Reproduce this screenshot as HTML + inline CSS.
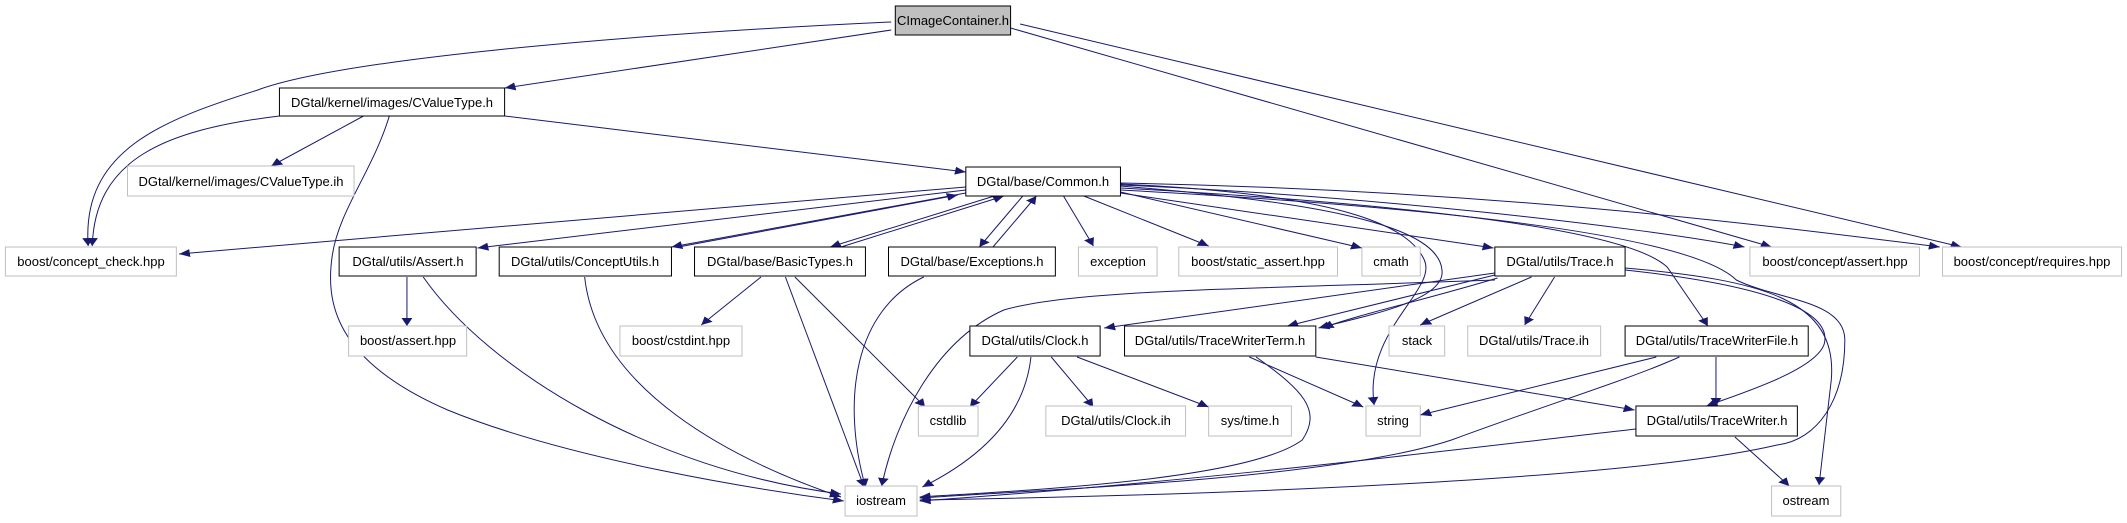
<!DOCTYPE html>
<html><head><meta charset="utf-8"><style>
html,body{margin:0;padding:0;background:#fff;}
svg{display:block;}
text{font-family:"Liberation Sans",Helvetica,Arial,sans-serif;font-size:13px;fill:#000;text-anchor:middle;}
</style></head><body>
<svg width="2127" height="523" viewBox="0 0 2127 523" xmlns="http://www.w3.org/2000/svg">
<defs>
<marker id="a" viewBox="0 0 10 10" refX="10" refY="5" markerUnits="userSpaceOnUse" markerWidth="8" markerHeight="9" orient="auto">
<path d="M0,0 L10,5 L0,10 z" fill="#191970"/>
</marker>
</defs>
<g transform="scale(1.3565,1)">
<g fill="none" stroke="#191970" stroke-width="1" vector-effect="non-scaling-stroke" marker-end="url(#a)">
<path vector-effect="non-scaling-stroke" d="M657,22 C450,35 250,60 190,90 C120,120 60,150 65,246"/>
<path vector-effect="non-scaling-stroke" d="M657,30 L372,88"/>
<path vector-effect="non-scaling-stroke" d="M745,28 L1306,247"/>
<path vector-effect="non-scaling-stroke" d="M752,24 L1446,247"/>
<path vector-effect="non-scaling-stroke" d="M206,116 C120,130 70,160 68,246"/>
<path vector-effect="non-scaling-stroke" d="M268,116 L200,166"/>
<path vector-effect="non-scaling-stroke" d="M287,116 C275,170 250,210 245,255 C240,300 245,360 330,410 C420,460 560,490 622,501"/>
<path vector-effect="non-scaling-stroke" d="M372,116 L712,172"/>
<path vector-effect="non-scaling-stroke" d="M712,187 L132,254"/>
<path vector-effect="non-scaling-stroke" d="M712,190 L352,248"/>
<path vector-effect="non-scaling-stroke" d="M712,193 L495,247"/>
<path vector-effect="non-scaling-stroke" d="M500,247 L706,195"/>
<path vector-effect="non-scaling-stroke" d="M733,196 L612,247"/>
<path vector-effect="non-scaling-stroke" d="M620,247 L740,196"/>
<path vector-effect="non-scaling-stroke" d="M754,196 L722,247"/>
<path vector-effect="non-scaling-stroke" d="M732,247 L764,196"/>
<path vector-effect="non-scaling-stroke" d="M784,196 L806,246"/>
<path vector-effect="non-scaling-stroke" d="M799,196 L891,246"/>
<path vector-effect="non-scaling-stroke" d="M826,192 L1004,248"/>
<path vector-effect="non-scaling-stroke" d="M826,193 L1101,248"/>
<path vector-effect="non-scaling-stroke" d="M826,185 C1000,195 1200,225 1286,247"/>
<path vector-effect="non-scaling-stroke" d="M826,183 C1100,190 1300,225 1430,247"/>
<path vector-effect="non-scaling-stroke" d="M826,186 C950,200 1060,220 1063,270 C1066,300 1010,315 972,328"/>
<path vector-effect="non-scaling-stroke" d="M826,184 C1000,195 1040,230 1050,260 C1060,290 1005,330 1013,405"/>
<path vector-effect="non-scaling-stroke" d="M826,188 C1050,205 1200,230 1229,267 L1259,326"/>
<path vector-effect="non-scaling-stroke" d="M826,190 C1100,210 1250,240 1280,280 C1310,300 1360,300 1360,340 C1360,400 1340,440 1310,445 C1200,480 900,495 678,500"/>
<path vector-effect="non-scaling-stroke" d="M1102,273 L814,328"/>
<path vector-effect="non-scaling-stroke" d="M1102,275 L949,326"/>
<path vector-effect="non-scaling-stroke" d="M1104,278 C1050,300 1000,315 975,328"/>
<path vector-effect="non-scaling-stroke" d="M1102,280 C900,290 790,290 740,310 C690,340 660,420 650,486"/>
<path vector-effect="non-scaling-stroke" d="M1129,277 L1047,325"/>
<path vector-effect="non-scaling-stroke" d="M1146,277 L1124,325"/>
<path vector-effect="non-scaling-stroke" d="M1198,270 C1300,285 1350,310 1345,343 C1340,370 1280,395 1258,406"/>
<path vector-effect="non-scaling-stroke" d="M1198,268 C1300,280 1355,300 1350,380 L1341,485"/>
<path vector-effect="non-scaling-stroke" d="M921,357 L1005,407"/>
<path vector-effect="non-scaling-stroke" d="M926,357 C960,390 975,410 960,440 C920,480 760,490 678,497"/>
<path vector-effect="non-scaling-stroke" d="M970,357 L1205,410"/>
<path vector-effect="non-scaling-stroke" d="M1221,357 L1047,415"/>
<path vector-effect="non-scaling-stroke" d="M1238,357 C1200,380 1150,400 1070,440 C980,480 760,490 678,498"/>
<path vector-effect="non-scaling-stroke" d="M1265,357 L1265,406"/>
<path vector-effect="non-scaling-stroke" d="M1206,429 C1100,445 900,480 678,501"/>
<path vector-effect="non-scaling-stroke" d="M1279,437 L1319,486"/>
<path vector-effect="non-scaling-stroke" d="M750,357 L715,407"/>
<path vector-effect="non-scaling-stroke" d="M760,357 C755,420 720,460 680,487"/>
<path vector-effect="non-scaling-stroke" d="M775,357 L806,407"/>
<path vector-effect="non-scaling-stroke" d="M794,357 L891,407"/>
<path vector-effect="non-scaling-stroke" d="M300,277 L300,326"/>
<path vector-effect="non-scaling-stroke" d="M312,277 C360,370 480,470 620,494"/>
<path vector-effect="non-scaling-stroke" d="M431,277 C440,390 540,460 620,497"/>
<path vector-effect="non-scaling-stroke" d="M561,277 L517,325"/>
<path vector-effect="non-scaling-stroke" d="M579,277 L637,487"/>
<path vector-effect="non-scaling-stroke" d="M586,277 L682,407"/>
<path vector-effect="non-scaling-stroke" d="M681,277 C630,310 620,400 638,487"/>
</g>
<g stroke-width="1" vector-effect="non-scaling-stroke">
<rect vector-effect="non-scaling-stroke" x="660" y="6" width="85" height="29" fill="#bfbfbf" stroke="#000"/>
<g fill="#fff" stroke="#000">
<rect vector-effect="non-scaling-stroke" x="206" y="88" width="166" height="28"/>
<rect vector-effect="non-scaling-stroke" x="712" y="167" width="114" height="29"/>
<rect vector-effect="non-scaling-stroke" x="250" y="247" width="101" height="29"/>
<rect vector-effect="non-scaling-stroke" x="368" y="247" width="127" height="29"/>
<rect vector-effect="non-scaling-stroke" x="512" y="247" width="126" height="29"/>
<rect vector-effect="non-scaling-stroke" x="655" y="247" width="123" height="29"/>
<rect vector-effect="non-scaling-stroke" x="1102" y="247" width="96" height="29"/>
<rect vector-effect="non-scaling-stroke" x="715" y="326" width="96" height="30"/>
<rect vector-effect="non-scaling-stroke" x="829" y="326" width="141" height="30"/>
<rect vector-effect="non-scaling-stroke" x="1198" y="326" width="135" height="30"/>
<rect vector-effect="non-scaling-stroke" x="1206" y="406" width="119" height="30"/>
</g>
<g fill="#fff" stroke="#bfbfbf">
<rect vector-effect="non-scaling-stroke" x="94" y="166" width="167" height="30"/>
<rect vector-effect="non-scaling-stroke" x="4" y="247" width="126" height="29"/>
<rect vector-effect="non-scaling-stroke" x="795" y="247" width="58" height="29"/>
<rect vector-effect="non-scaling-stroke" x="869" y="247" width="117" height="29"/>
<rect vector-effect="non-scaling-stroke" x="1004" y="247" width="43" height="29"/>
<rect vector-effect="non-scaling-stroke" x="1290" y="247" width="125" height="29"/>
<rect vector-effect="non-scaling-stroke" x="1432" y="247" width="132" height="29"/>
<rect vector-effect="non-scaling-stroke" x="257" y="326" width="87" height="30"/>
<rect vector-effect="non-scaling-stroke" x="457" y="326" width="90" height="30"/>
<rect vector-effect="non-scaling-stroke" x="1024" y="326" width="41" height="30"/>
<rect vector-effect="non-scaling-stroke" x="1082" y="326" width="98" height="30"/>
<rect vector-effect="non-scaling-stroke" x="677" y="406" width="44" height="30"/>
<rect vector-effect="non-scaling-stroke" x="771" y="406" width="103" height="30"/>
<rect vector-effect="non-scaling-stroke" x="891" y="406" width="61" height="30"/>
<rect vector-effect="non-scaling-stroke" x="1007" y="406" width="40" height="30"/>
<rect vector-effect="non-scaling-stroke" x="623" y="486" width="53" height="30"/>
<rect vector-effect="non-scaling-stroke" x="1306" y="486" width="51" height="30"/>
</g>
</g>
</g>
<g>
<text x="953" y="25">CImageContainer.h</text>
<text x="392" y="107">DGtal/kernel/images/CValueType.h</text>
<text x="241" y="186">DGtal/kernel/images/CValueType.ih</text>
<text x="1043" y="186">DGtal/base/Common.h</text>
<text x="91" y="266">boost/concept_check.hpp</text>
<text x="408" y="266">DGtal/utils/Assert.h</text>
<text x="585" y="266">DGtal/utils/ConceptUtils.h</text>
<text x="780" y="266">DGtal/base/BasicTypes.h</text>
<text x="972" y="266">DGtal/base/Exceptions.h</text>
<text x="1118" y="266">exception</text>
<text x="1258" y="266">boost/static_assert.hpp</text>
<text x="1391" y="266">cmath</text>
<text x="1560" y="266">DGtal/utils/Trace.h</text>
<text x="1835" y="266">boost/concept/assert.hpp</text>
<text x="2032" y="266">boost/concept/requires.hpp</text>
<text x="408" y="345">boost/assert.hpp</text>
<text x="681" y="345">boost/cstdint.hpp</text>
<text x="1035" y="345">DGtal/utils/Clock.h</text>
<text x="1220" y="345">DGtal/utils/TraceWriterTerm.h</text>
<text x="1417" y="345">stack</text>
<text x="1534" y="345">DGtal/utils/Trace.ih</text>
<text x="1717" y="345">DGtal/utils/TraceWriterFile.h</text>
<text x="948" y="425">cstdlib</text>
<text x="1116" y="425">DGtal/utils/Clock.ih</text>
<text x="1250" y="425">sys/time.h</text>
<text x="1393" y="425">string</text>
<text x="1717" y="425">DGtal/utils/TraceWriter.h</text>
<text x="881" y="505">iostream</text>
<text x="1806" y="505">ostream</text>
</g>
</svg>
</body></html>
